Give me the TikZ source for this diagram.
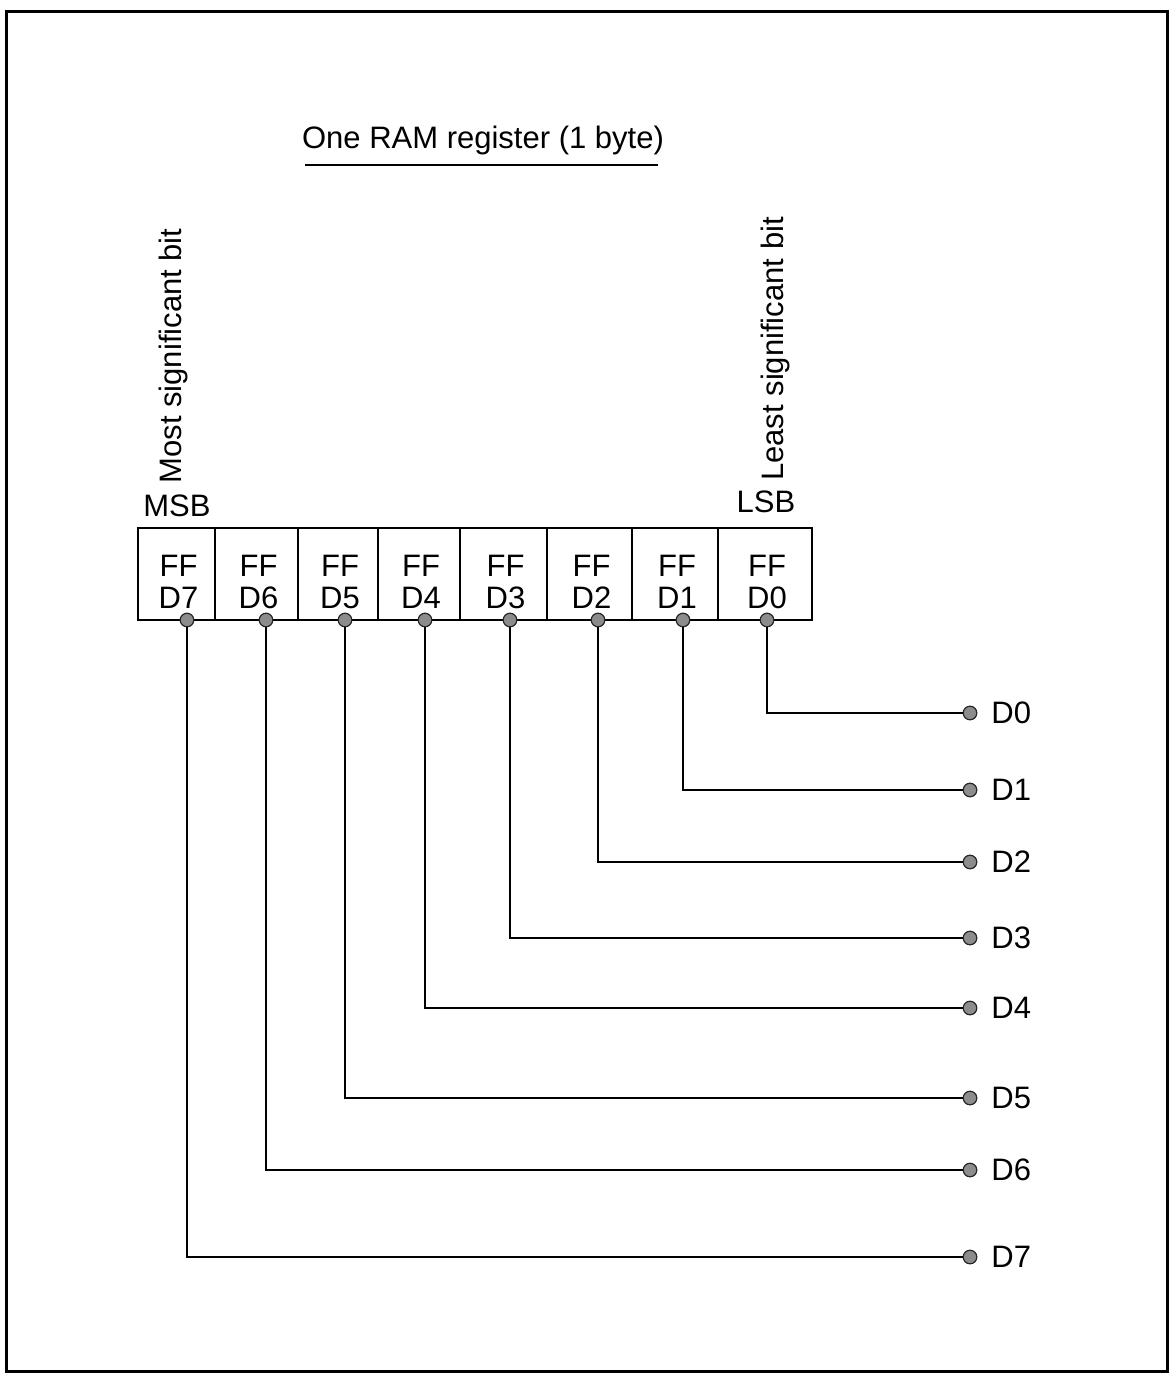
\documentclass[tikz,border=0pt]{standalone}
\usepackage{fontspec}
\setmainfont{Liberation Sans}
\begin{document}
\begin{tikzpicture}[x=0.5pt,y=-0.5pt,
  outerframe/.style={line width=1.5pt},
  ffbox/.style={draw, line width=1.3pt, minimum height=46pt, inner sep=0pt},
  fftext/.style={font=\fontsize{15.5}{16}\selectfont, align=center, inner sep=0pt},
  wire/.style={line width=1.2pt},
  pindot/.style={circle, draw=black!85, fill=black!45, line width=0.6pt, minimum size=6.8pt, inner sep=0pt},
  lbl/.style={font=\fontsize{15.5}{16}\selectfont, inner sep=0pt},
  dlabel/.style={lbl, anchor=west},
]
\useasboundingbox (0,0) rectangle (1170,1374);
\draw[outerframe] (6,12) rectangle (1167,1371);

% title
\node[lbl] (title) at (483,140) {One RAM register (1 byte)};
\draw[line width=1.1pt] (305,165) -- (658,165);

% side labels
\node[lbl, rotate=90] (msbtxt) at (173,356) {Most significant bit};
\node[lbl, rotate=90] (lsbtxt) at (775,349) {Least significant bit};
\node[lbl] (msb) at (177,506) {MSB};
\node[lbl] (lsb) at (766,502) {LSB};

% register boxes
\foreach \i/\l/\r in {7/138/215, 6/215/298, 5/298/378, 4/378/460, 3/460/547, 2/547/632, 1/632/718, 0/718/812} {
  \pgfmathsetmacro{\w}{(\r-\l)/2}
  \node[ffbox, minimum width=\w pt] (b\i) at ({(\l+\r)/2},574) {};
  \node[fftext] (ft\i) at ({(\l+\r)/2+2},582) {FF\\D\i};
}

% wires to data lines
\foreach \i/\bx/\y in {0/767/713, 1/683/790, 2/598/862, 3/510/938, 4/425/1008, 5/345/1098, 6/266/1170, 7/187/1257} {
  \node[pindot] (t\i) at (\bx,620) {};
  \node[pindot] (e\i) at (970,\y) {};
  \node[dlabel] (l\i) at (991,\y) {D\i};
  \draw[wire] (t\i) |- (e\i);
}
\end{tikzpicture}
\end{document}
